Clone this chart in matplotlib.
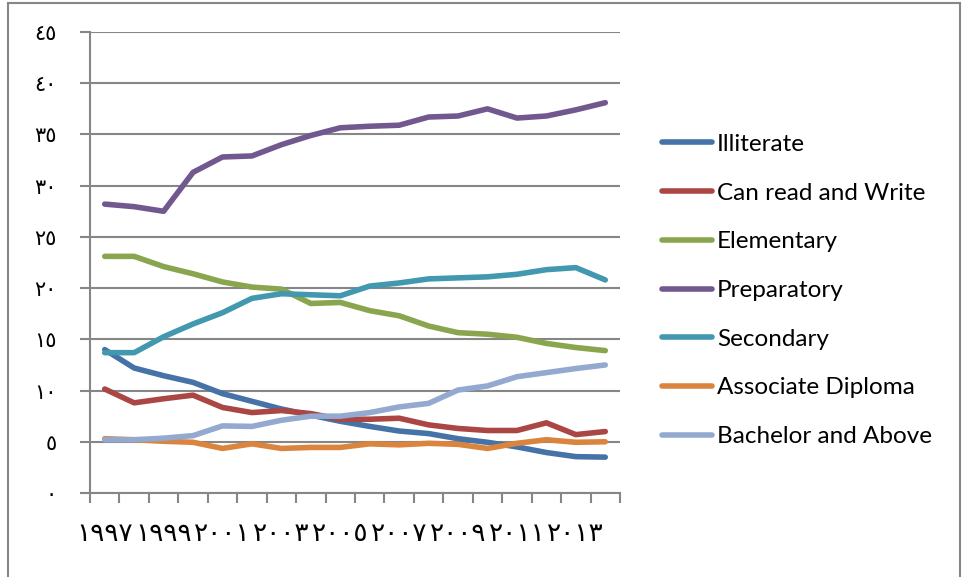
import numpy as np
import matplotlib
matplotlib.use("Agg")
from matplotlib import pyplot as plt
from matplotlib.patches import Rectangle

# data (percent)
years = list(range(1997, 2015))
illiterate = [14.0, 12.2, 11.45, 10.8, 9.7, 8.95, 8.2, 7.6, 7.0, 6.5, 6.05, 5.8, 5.3, 4.95, 4.5, 3.95, 3.55, 3.5]
can_read = [10.15, 8.8, 9.2, 9.55, 8.35, 7.85, 8.05, 7.75, 7.2, 7.2, 7.3, 6.65, 6.3, 6.1, 6.1, 6.85, 5.7, 6.0]
elementary = [23.1, 23.1, 22.1, 21.4, 20.6, 20.1, 19.9, 18.5, 18.6, 17.8, 17.3, 16.3, 15.65, 15.5, 15.2, 14.6, 14.2, 13.9]
preparatory = [28.2, 27.95, 27.5, 31.3, 32.8, 32.9, 34.0, 34.9, 35.65, 35.8, 35.9, 36.7, 36.8, 37.5, 36.6, 36.8, 37.4, 38.1]
secondary = [13.7, 13.7, 15.25, 16.5, 17.6, 19.0, 19.45, 19.35, 19.25, 20.2, 20.5, 20.9, 21.0, 21.1, 21.35, 21.8, 22.0, 20.8]
associate = [5.3, 5.2, 5.05, 4.95, 4.35, 4.8, 4.35, 4.45, 4.45, 4.8, 4.7, 4.85, 4.75, 4.35, 4.85, 5.2, 4.95, 5.0]
bachelor = [5.2, 5.2, 5.35, 5.6, 6.55, 6.5, 7.1, 7.5, 7.5, 7.85, 8.4, 8.75, 10.05, 10.45, 11.35, 11.75, 12.15, 12.5]

series_names = ["Illiterate", "Can read and Write", "Elementary", "Preparatory",
                "Secondary", "Associate Diploma", "Bachelor and Above"]
series_colors = ["#4572A7", "#AA4643", "#89A54E", "#71588F", "#4198AF", "#DB843D", "#93A9CF"]

arabic_digits = str.maketrans("0123456789", "٠١٢٣٤٥٦٧٨٩")
y_ticks = list(range(0, 50, 5))
x_labels = [str(y).translate(arabic_digits) for y in years[::2]]
y_labels = [str(v).translate(arabic_digits) for v in y_ticks]

grid_color = "#868686"

fig = plt.figure(figsize=(9.63, 5.77), dpi=100)
ax = fig.add_axes([90 / 963, 1 - 493 / 577, 530 / 963, 461 / 577])

x = np.arange(len(years)) + 0.5
all_series = [illiterate, can_read, elementary, preparatory, secondary, associate, bachelor]
for vals, name, col in zip(all_series, series_names, series_colors):
    ax.plot(x, vals, color=col, lw=4, label=name, solid_capstyle="round", solid_joinstyle="round")

ax.set_xlim(0, len(years))
ax.set_ylim(0, 45)

ax.set_yticks(y_ticks)
ax.set_yticklabels(y_labels, family=["DejaVu Sans"], fontsize=15)
ax.yaxis.grid(True, color=grid_color, lw=1.5)
ax.set_axisbelow(True)

ax.set_xticks(np.arange(len(years) + 1))
ax.set_xticklabels([])
ax.set_xticks(x[::2], minor=True)
ax.set_xticklabels(x_labels, minor=True, family=["DejaVu Sans"], fontsize=19)
ax.tick_params(axis="x", which="minor", length=0, pad=20)
ax.tick_params(axis="x", which="major", length=7, width=1.5, color=grid_color)
ax.tick_params(axis="y", length=7, width=1.5, color=grid_color, pad=17)

for s in ["top", "right"]:
    ax.spines[s].set_visible(False)
for s in ["left", "bottom"]:
    ax.spines[s].set_color(grid_color)
    ax.spines[s].set_linewidth(1.5)

fig.legend(loc="upper left", bbox_to_anchor=(640 / 963, 1 - 112 / 577), frameon=False,
           prop={"family": "Lato", "size": 17.5}, handlelength=2.05, handletextpad=0.22,
           labelspacing=1.14)

fig.patches.append(Rectangle((8 / 963, -0.01), 952 / 963, 1 - 3 / 577 + 0.01,
                             transform=fig.transFigure, fill=False,
                             edgecolor=grid_color, lw=1.5))

fig.savefig("out.png", dpi=100)
